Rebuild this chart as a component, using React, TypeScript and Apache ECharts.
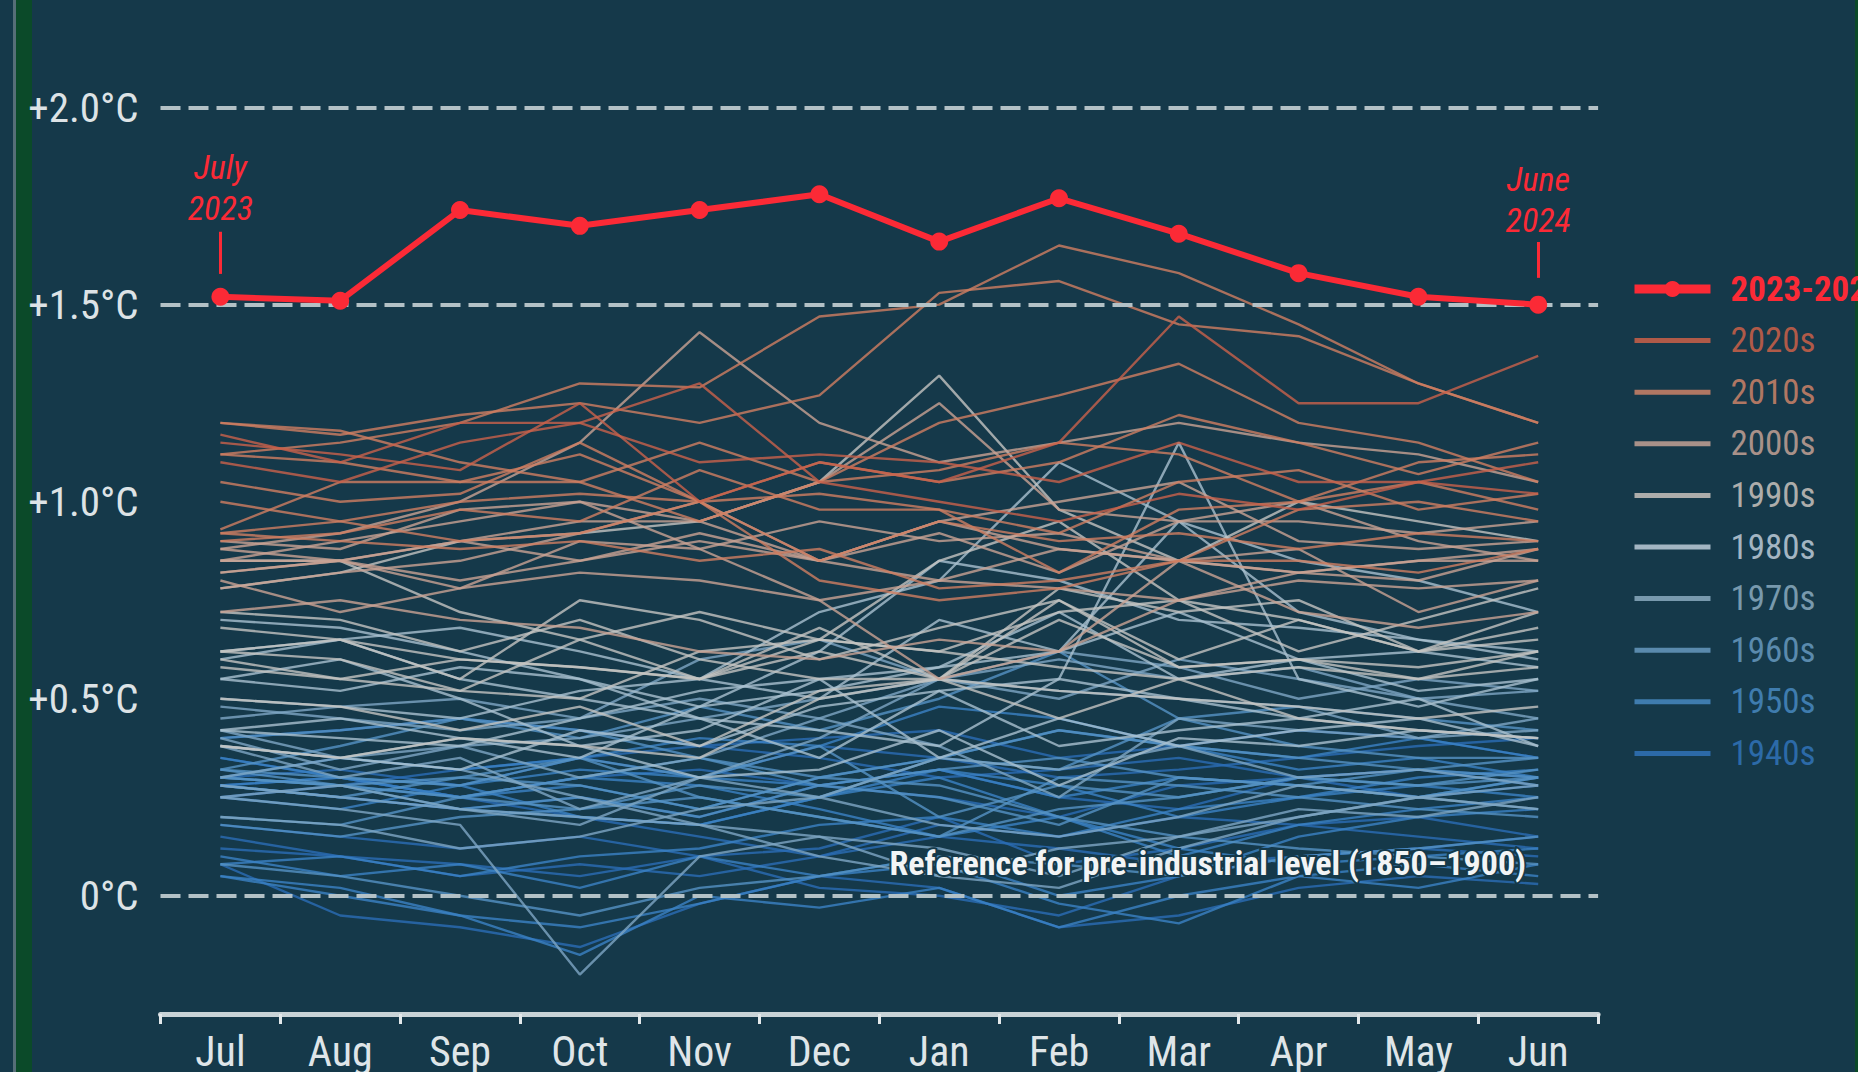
import React, { useEffect, useRef } from "react";
import * as echarts from "echarts";

const months = ["Jul", "Aug", "Sep", "Oct", "Nov", "Dec", "Jan", "Feb", "Mar", "Apr", "May", "Jun"];
const yLabelValues = [0, 0.5, 1, 1.5, 2];
const dashedLevels = [0, 1.5, 2];

const current2023 = [1.52, 1.51, 1.74, 1.70, 1.74, 1.78, 1.66, 1.77, 1.68, 1.58, 1.52, 1.50];

const y1940s = [
  [0.30, 0.32, 0.28, 0.35, 0.38, 0.40, 0.42, 0.35, 0.38, 0.42, 0.40, 0.35],
  [0.35, 0.30, 0.25, 0.30, 0.32, 0.28, 0.25, 0.20, 0.28, 0.30, 0.32, 0.30],
  [0.28, 0.25, 0.22, 0.25, 0.20, 0.28, 0.32, 0.25, 0.22, 0.30, 0.25, 0.28],
  [0.25, 0.28, 0.32, 0.35, 0.30, 0.38, 0.35, 0.30, 0.32, 0.35, 0.38, 0.40],
  [0.40, 0.42, 0.45, 0.42, 0.38, 0.35, 0.30, 0.32, 0.35, 0.30, 0.32, 0.28],
  [0.28, 0.30, 0.25, 0.20, 0.15, 0.10, 0.18, 0.15, 0.20, 0.18, 0.15, 0.12],
  [0.12, 0.10, 0.08, 0.05, 0.10, 0.02, 0.00, -0.05, 0.05, 0.10, 0.12, 0.15],
  [0.18, 0.15, 0.12, 0.15, 0.10, 0.12, 0.20, 0.08, 0.12, 0.18, 0.20, 0.15],
  [0.15, 0.10, 0.05, 0.08, 0.05, 0.10, 0.15, 0.12, 0.08, 0.10, 0.12, 0.10],
  [0.08, -0.05, -0.08, -0.13, -0.02, 0.05, 0.02, -0.08, -0.05, 0.02, 0.05, 0.03],
];
const y1950s = [
  [0.05, 0.02, -0.05, -0.08, -0.02, 0.05, 0.10, 0.00, 0.05, 0.15, 0.20, 0.22],
  [0.25, 0.22, 0.28, 0.20, 0.18, 0.25, 0.32, 0.28, 0.20, 0.25, 0.28, 0.25],
  [0.28, 0.30, 0.25, 0.28, 0.22, 0.30, 0.35, 0.42, 0.38, 0.32, 0.35, 0.30],
  [0.30, 0.28, 0.25, 0.30, 0.28, 0.22, 0.15, 0.20, 0.12, 0.08, 0.10, 0.12],
  [0.10, 0.05, 0.08, 0.02, 0.10, 0.05, 0.08, -0.02, -0.07, 0.05, 0.02, 0.08],
  [0.05, 0.00, -0.05, -0.15, 0.00, -0.03, 0.02, -0.08, 0.00, 0.05, 0.08, 0.05],
  [0.08, 0.10, 0.05, 0.10, 0.12, 0.18, 0.20, 0.15, 0.22, 0.25, 0.30, 0.32],
  [0.30, 0.35, 0.32, 0.35, 0.40, 0.38, 0.48, 0.45, 0.38, 0.35, 0.40, 0.35],
  [0.35, 0.30, 0.28, 0.32, 0.30, 0.28, 0.32, 0.25, 0.30, 0.28, 0.25, 0.30],
  [0.28, 0.25, 0.22, 0.20, 0.18, 0.25, 0.30, 0.20, 0.10, 0.18, 0.22, 0.25],
];
const y1960s = [
  [0.28, 0.25, 0.30, 0.28, 0.22, 0.30, 0.35, 0.42, 0.38, 0.35, 0.32, 0.30],
  [0.30, 0.28, 0.25, 0.30, 0.35, 0.28, 0.32, 0.35, 0.30, 0.28, 0.25, 0.30],
  [0.32, 0.30, 0.28, 0.35, 0.30, 0.38, 0.20, 0.28, 0.25, 0.30, 0.28, 0.30],
  [0.32, 0.38, 0.45, 0.42, 0.35, 0.30, 0.28, 0.20, 0.15, 0.12, 0.10, 0.08],
  [0.08, 0.05, 0.00, -0.05, 0.02, 0.05, 0.10, 0.08, 0.05, 0.10, 0.12, 0.15],
  [0.18, 0.15, 0.20, 0.22, 0.25, 0.20, 0.15, 0.22, 0.25, 0.30, 0.28, 0.32],
  [0.30, 0.28, 0.22, 0.25, 0.20, 0.28, 0.25, 0.18, 0.30, 0.28, 0.32, 0.35],
  [0.32, 0.28, 0.30, 0.35, 0.25, 0.20, 0.15, 0.30, 0.28, 0.25, 0.22, 0.20],
  [0.20, 0.18, 0.25, 0.22, 0.28, 0.25, 0.35, 0.32, 0.45, 0.48, 0.45, 0.42],
  [0.40, 0.42, 0.45, 0.40, 0.48, 0.42, 0.50, 0.62, 0.45, 0.38, 0.35, 0.35],
];
const y1970s = [
  [0.38, 0.30, 0.35, 0.22, 0.30, 0.25, 0.18, 0.15, 0.20, 0.28, 0.25, 0.22],
  [0.25, 0.28, 0.22, 0.20, 0.18, 0.10, 0.05, 0.02, 0.12, 0.20, 0.25, 0.28],
  [0.30, 0.35, 0.38, 0.40, 0.45, 0.50, 0.55, 0.60, 0.55, 0.58, 0.50, 0.45],
  [0.42, 0.35, 0.32, 0.25, 0.18, 0.15, 0.05, 0.12, 0.15, 0.20, 0.25, 0.22],
  [0.20, 0.18, 0.12, 0.15, 0.22, 0.25, 0.35, 0.32, 0.38, 0.30, 0.32, 0.28],
  [0.25, 0.22, 0.18, -0.20, 0.10, 0.15, 0.12, 0.05, 0.15, 0.22, 0.20, 0.25],
  [0.28, 0.25, 0.22, 0.18, 0.30, 0.40, 0.55, 0.50, 0.60, 0.55, 0.50, 0.52],
  [0.48, 0.45, 0.42, 0.45, 0.50, 0.45, 0.55, 0.52, 0.50, 0.48, 0.40, 0.42],
  [0.40, 0.32, 0.38, 0.30, 0.35, 0.45, 0.38, 0.25, 0.45, 0.42, 0.40, 0.45],
  [0.45, 0.48, 0.50, 0.45, 0.60, 0.65, 0.55, 0.62, 0.58, 0.50, 0.55, 0.52],
];
const y1980s = [
  [0.50, 0.48, 0.45, 0.52, 0.55, 0.50, 0.70, 0.62, 0.72, 0.60, 0.52, 0.55],
  [0.55, 0.60, 0.50, 0.38, 0.42, 0.55, 0.35, 0.45, 0.38, 0.42, 0.45, 0.38],
  [0.38, 0.35, 0.40, 0.35, 0.48, 0.62, 0.85, 0.80, 0.70, 0.68, 0.65, 0.60],
  [0.62, 0.65, 0.55, 0.50, 0.45, 0.35, 0.52, 0.38, 0.42, 0.45, 0.50, 0.38],
  [0.42, 0.45, 0.40, 0.38, 0.30, 0.32, 0.42, 0.28, 0.40, 0.38, 0.42, 0.40],
  [0.38, 0.35, 0.32, 0.42, 0.38, 0.48, 0.52, 0.55, 0.50, 0.45, 0.42, 0.40],
  [0.42, 0.40, 0.38, 0.45, 0.52, 0.55, 0.58, 0.72, 0.55, 0.60, 0.62, 0.58],
  [0.60, 0.65, 0.68, 0.62, 0.55, 0.72, 0.80, 1.10, 0.95, 0.85, 0.80, 0.72],
  [0.70, 0.68, 0.62, 0.55, 0.45, 0.42, 0.38, 0.55, 1.15, 0.55, 0.48, 0.55],
  [0.55, 0.52, 0.58, 0.55, 0.48, 0.52, 0.58, 0.62, 0.95, 0.72, 0.65, 0.62],
];
const y1990s = [
  [0.62, 0.65, 0.55, 0.75, 0.70, 0.60, 0.68, 0.75, 0.60, 0.70, 0.62, 0.68],
  [0.68, 0.65, 0.60, 0.58, 0.55, 0.65, 0.62, 0.58, 0.55, 0.45, 0.42, 0.40],
  [0.38, 0.35, 0.40, 0.38, 0.35, 0.50, 0.55, 0.52, 0.50, 0.48, 0.45, 0.48],
  [0.50, 0.48, 0.42, 0.48, 0.38, 0.52, 0.55, 0.45, 0.55, 0.58, 0.55, 0.62],
  [0.58, 0.55, 0.52, 0.65, 0.72, 0.65, 0.85, 0.95, 0.75, 0.70, 0.62, 0.72],
  [0.72, 0.70, 0.62, 0.70, 0.60, 0.55, 0.55, 0.70, 0.58, 0.60, 0.58, 0.62],
  [0.62, 0.60, 0.52, 0.50, 0.62, 0.65, 0.62, 0.72, 0.75, 0.62, 0.70, 0.78],
  [0.78, 0.82, 0.90, 0.92, 0.95, 1.05, 1.32, 0.98, 0.85, 1.00, 0.95, 0.90],
  [0.85, 0.85, 0.72, 0.65, 0.55, 0.62, 0.55, 0.75, 0.58, 0.60, 0.55, 0.58],
  [0.60, 0.55, 0.60, 0.58, 0.55, 0.68, 0.55, 0.78, 0.72, 0.75, 0.62, 0.65],
];
const y2000s = [
  [0.72, 0.75, 0.70, 0.68, 0.62, 0.60, 0.65, 0.62, 0.75, 0.80, 0.78, 0.80],
  [0.82, 0.85, 0.80, 0.85, 0.92, 0.85, 0.95, 1.00, 1.05, 0.90, 0.88, 0.90],
  [0.88, 0.85, 0.90, 0.85, 0.90, 0.85, 0.95, 0.88, 0.85, 0.82, 0.85, 0.85],
  [0.85, 0.90, 0.95, 1.00, 0.88, 0.95, 0.90, 0.92, 0.85, 0.88, 0.72, 0.80],
  [0.78, 0.82, 0.85, 0.92, 1.00, 0.85, 0.92, 0.82, 0.95, 0.95, 0.92, 0.95],
  [0.90, 0.88, 0.98, 1.00, 0.95, 0.85, 0.80, 0.88, 0.85, 0.82, 0.80, 0.88],
  [0.85, 0.85, 0.90, 0.95, 0.95, 1.05, 1.25, 0.98, 0.95, 1.00, 0.90, 0.85],
  [0.82, 0.85, 0.78, 0.82, 0.80, 0.75, 0.55, 0.62, 0.85, 0.72, 0.68, 0.72],
  [0.80, 0.72, 0.78, 0.90, 0.88, 0.75, 0.80, 0.78, 0.75, 0.82, 0.85, 0.88],
  [0.88, 0.92, 1.00, 1.15, 1.43, 1.20, 1.10, 1.15, 1.20, 1.15, 1.12, 1.05],
];
const y2010s = [
  [1.00, 0.95, 0.90, 0.92, 1.00, 0.80, 0.75, 0.78, 0.85, 0.85, 0.82, 0.88],
  [0.92, 0.90, 0.88, 0.90, 0.85, 0.88, 0.78, 0.80, 0.85, 0.98, 1.00, 0.95],
  [0.92, 0.95, 1.00, 1.02, 1.00, 0.85, 0.95, 0.90, 0.92, 0.88, 0.92, 0.90],
  [0.90, 0.92, 0.98, 0.95, 1.08, 0.98, 0.98, 0.82, 0.98, 1.00, 1.05, 0.98],
  [0.93, 1.05, 1.05, 1.05, 0.95, 1.05, 1.08, 1.15, 1.12, 1.00, 1.10, 1.12],
  [1.12, 1.15, 1.20, 1.30, 1.29, 1.47, 1.50, 1.65, 1.58, 1.45, 1.30, 1.20],
  [1.20, 1.18, 1.10, 1.05, 1.15, 1.05, 1.20, 1.27, 1.35, 1.20, 1.15, 1.05],
  [1.12, 1.10, 1.05, 1.12, 1.00, 1.02, 0.98, 0.92, 1.05, 1.08, 0.98, 1.02],
  [1.05, 1.00, 1.02, 1.15, 1.00, 1.10, 1.05, 1.10, 1.22, 1.15, 1.07, 1.15],
  [1.20, 1.17, 1.22, 1.25, 1.20, 1.27, 1.53, 1.56, 1.45, 1.42, 1.30, 1.20],
];
const y2020s = [
  [1.17, 1.10, 1.20, 1.20, 1.30, 1.05, 1.00, 0.95, 1.02, 0.98, 1.05, 1.02],
  [1.10, 1.05, 1.15, 1.20, 1.10, 1.12, 1.10, 1.05, 1.15, 1.05, 1.05, 1.10],
  [1.15, 1.12, 1.08, 1.25, 1.00, 1.10, 1.05, 1.15, 1.47, 1.25, 1.25, 1.37],
];

const RED = "#fb2a36";
const BG = "#15394a";
const FONT = "'Roboto Condensed', 'Liberation Sans Narrow', 'DejaVu Sans Condensed', Roboto, sans-serif";

const decades = [
  { name: "1940s", rows: y1940s, line: "#2a6db5", text: "#2c6aa8" },
  { name: "1950s", rows: y1950s, line: "#3b82c4", text: "#3f7cae" },
  { name: "1960s", rows: y1960s, line: "#5592c4", text: "#5a8aad" },
  { name: "1970s", rows: y1970s, line: "#7ea6c4", text: "#7899ad" },
  { name: "1980s", rows: y1980s, line: "#a9c0d0", text: "#a3b5c2" },
  { name: "1990s", rows: y1990s, line: "#c4c4c2", text: "#adadab" },
  { name: "2000s", rows: y2000s, line: "#c9a393", text: "#a89189" },
  { name: "2010s", rows: y2010s, line: "#cf7e62", text: "#b07763" },
  { name: "2020s", rows: y2020s, line: "#c9624b", text: "#b05a48" },
];

export default function App() {
  const ref = useRef<HTMLDivElement>(null);
  useEffect(() => {
    if (!ref.current) return;
    const chart = echarts.init(ref.current, null, { renderer: "svg" });

    const series: any[] = [];
    decades.forEach((d, di) => {
      d.rows.forEach((row, ri) => {
        const isLast = di === decades.length - 1 && ri === d.rows.length - 1;
        const s: any = {
          type: "line",
          name: d.name,
          data: row,
          symbol: "none",
          showSymbol: false,
          silent: true,
          z: 2,
          lineStyle: { color: d.line, width: 2.4, opacity: 0.8 },
          itemStyle: { color: d.line },
        };
        if (isLast) {
          s.markLine = {
            silent: true,
            symbol: ["none", "none"],
            z: 5,
            lineStyle: { color: "#b3c1c6", width: 4, type: [20, 8], opacity: 1 },
            label: { show: false },
            data: dashedLevels.map((v) =>
              v === 0
                ? {
                    yAxis: v,
                    label: {
                      show: true,
                      position: "insideEndTop",
                      formatter: "Reference for pre-industrial level (1850–1900)",
                      fontFamily: FONT,
                      fontWeight: "bold",
                      fontSize: 34,
                      color: "#f2f4f5",
                      textBorderColor: BG,
                      textBorderWidth: 4,
                      distance: [72, 16],
                    },
                  }
                : { yAxis: v }
            ),
          };
        }
        series.push(s);
      });
    });

    const annot = (text: string, dist: number) => ({
      show: true,
      position: "top",
      distance: dist,
      formatter: text,
      fontStyle: "italic",
      fontFamily: FONT,
      fontSize: 34,
      lineHeight: 41,
      color: RED,
    });

    series.push({
      type: "line",
      name: "2023-2024",
      data: current2023.map((v, i) => {
        if (i === 0) return { value: v, label: annot("July\n2023", 59) };
        if (i === current2023.length - 1) return { value: v, label: annot("June\n2024", 55) };
        return v;
      }),
      symbol: "circle",
      symbolSize: 18,
      showSymbol: true,
      silent: true,
      z: 10,
      lineStyle: { color: RED, width: 6 },
      itemStyle: { color: RED },
      markLine: {
        silent: true,
        symbol: ["none", "none"],
        lineStyle: { color: RED, width: 3, type: "solid" },
        label: { show: false },
        data: [
          [{ coord: [months[0], 1.578] }, { coord: [months[0], 1.685] }],
          [{ coord: [months[11], 1.568] }, { coord: [months[11], 1.659] }],
        ],
      },
    });

    const legendData: any[] = [
      {
        name: "2023-2024",
        itemStyle: { color: RED },
        lineStyle: { color: RED, width: 9 },
        textStyle: { color: RED, fontWeight: "bold" },
      },
      ...decades
        .slice()
        .reverse()
        .map((d) => ({
          name: d.name,
          itemStyle: { color: "rgba(0,0,0,0)", borderColor: "rgba(0,0,0,0)", borderWidth: 0, opacity: 0 },
          lineStyle: { color: d.text, width: 5, opacity: 1 },
          textStyle: { color: d.text },
        })),
    ];

    chart.setOption({
      animation: false,
      backgroundColor: BG,
      grid: { left: 160.5, right: 259.9, top: 28.8, bottom: 52, containLabel: false },
      legend: {
        orient: "vertical",
        left: 1630,
        top: 271.5,
        padding: 0,
        itemWidth: 76,
        itemHeight: 20,
        itemGap: 16.6,
        selectedMode: false,
        textStyle: {
          fontFamily: FONT,
          fontSize: 35,
          padding: [0, 0, 0, 15],
        },
        data: legendData,
      },
      xAxis: {
        type: "category",
        data: months,
        boundaryGap: true,
        axisLine: { show: true, onZero: false, lineStyle: { color: "#c9d3d7", width: 5 } },
        axisTick: { show: true, length: 10, lineStyle: { color: "#e3e8ea", width: 3 } },
        axisLabel: { color: "#dfe5e8", fontSize: 42, fontFamily: FONT, margin: 16 },
        splitLine: { show: false },
      },
      yAxis: {
        type: "value",
        min: -0.3,
        max: 2.2,
        axisLine: { show: false },
        axisTick: { show: false },
        splitLine: { show: false },
        axisLabel: {
          customValues: yLabelValues,
          color: "#dde3e6",
          fontSize: 41,
          fontFamily: FONT,
          margin: 22,
          formatter: (v: number) => {
            const r = Math.round(v * 10) / 10;
            if (Math.abs(r * 2 - Math.round(r * 2)) > 1e-6 || r < 0 || r > 2) return "";
            return r === 0 ? "0°C" : "+" + r.toFixed(1) + "°C";
          },
        },
      },
      graphic: [
        { type: "rect", shape: { x: 13, y: 0, width: 3, height: 1072 }, style: { fill: "#566e78" }, silent: true },
        { type: "rect", shape: { x: 16, y: 0, width: 16, height: 1072 }, style: { fill: "#0b4a29" }, silent: true },
        { type: "rect", shape: { x: 1855, y: 0, width: 3, height: 1072 }, style: { fill: "#0b4a29" }, silent: true },
      ],
      series,
    });

    return () => chart.dispose();
  }, []);

  return (
    <div
      ref={ref}
      style={{ position: "fixed", left: 0, top: 0, width: 1858, height: 1072 }}
    />
  );
}
